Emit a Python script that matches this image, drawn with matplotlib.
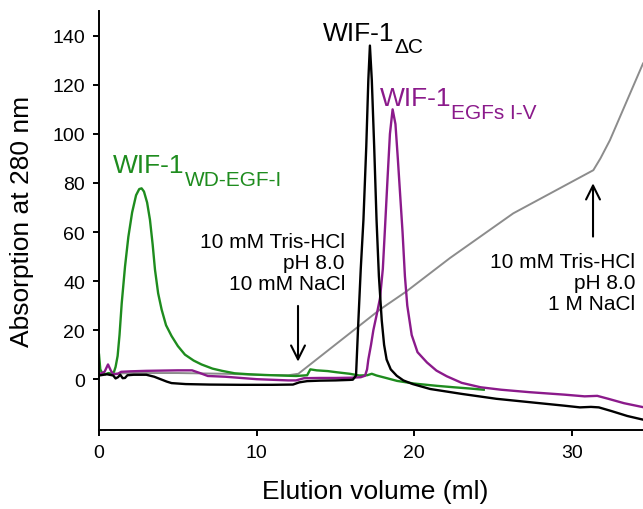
import numpy as np
import matplotlib.pyplot as plt

plt.rcParams['font.family'] = ['Liberation Sans', 'DejaVu Sans']

# WIF-1 WD-EGF-I (зелёная)
green_x = [0, 0.08, 0.2, 0.4, 0.6, 0.8, 0.95, 1.05, 1.18, 1.3, 1.44, 1.65, 1.86, 2.1,
           2.35, 2.55, 2.7, 2.85, 3.05, 3.23, 3.4, 3.55, 3.75, 3.97, 4.25, 4.6, 5.0,
           5.45, 6.0, 6.5, 7.2, 7.8, 8.6, 9.5, 10.5, 11.5, 12.5, 13.2, 13.4, 13.8,
           14.5, 15.1, 15.9, 16.5, 17.0, 17.3, 17.6, 18.2, 18.9, 20.0, 21.4, 22.5,
           23.5, 24.4]
green_y = [10, 4, 2.5, 2, 2.5, 2.2, 3, 5, 9.5, 18, 31, 46, 58, 68,
           75, 77.5, 77.8, 76.5, 72, 65, 55, 44.6, 35, 28.4, 22, 17.6, 13.5,
           10, 7.6, 6, 4.3, 3.4, 2.4, 2, 1.7, 1.5, 1.3, 1.6, 4, 3.6,
           3.3, 2.8, 2.2, 1.5, 1.6, 2.2, 1.5, 0.5, -0.7, -1.8, -2.7, -3.3,
           -3.8, -4.3]

# WIF-1 dC (чёрная)
black_x = [0, 0.5, 0.9, 1.05, 1.2, 1.35, 1.5, 1.65, 1.8, 2.2, 3.0, 3.5, 3.9, 4.3,
           4.6, 5.5, 7, 9, 11, 12.3, 12.7, 13.2, 14, 15, 15.9, 16.1, 16.3, 16.45,
           16.6, 16.77, 16.95, 17.08, 17.18, 17.3, 17.45, 17.6, 17.75, 17.93, 18.08,
           18.24, 18.5, 18.88, 19.3, 19.9, 21, 23, 25.2, 27.5, 29.5, 30.5, 31.2,
           31.7, 32.5, 33.5, 34.5]
black_y = [1.5, 2, 1.5, 0.3, 0.8, 1.8, 0.4, 0.5, 1.6, 1.8, 1.8, 1, 0, -1,
           -1.6, -2, -2.2, -2.3, -2.3, -2.2, -1.3, -0.8, -0.6, -0.5, -0.3, -0.2, 1.5, 24,
           45, 65, 95, 122, 136, 122, 95, 65, 42, 24, 14,
           8, 4, 1.4, -0.5, -2, -4, -6, -8, -9.5, -10.8, -11.5, -11.3,
           -11.5, -13, -15, -16.5]

# WIF-1 EGFs I-V (фиолетовая)
purple_x = [0, 0.35, 0.57, 0.75, 0.9, 1.2, 1.4, 2, 3, 4, 5, 5.9, 6.4, 6.9, 8, 10,
            12, 12.5, 13, 14, 15, 16, 16.6, 16.87, 17.0, 17.08, 17.25, 17.4, 17.6,
            17.82, 18.0, 18.14, 18.3, 18.45, 18.62, 18.8, 18.95, 19.1, 19.25, 19.4,
            19.55, 19.83, 20.2, 20.8, 21.4, 22.05, 23, 24.2, 25.5, 27.3, 29.5, 30.8,
            31.6, 32.3, 33.3, 34.5]
purple_y = [2, 3, 6, 3.5, 2.0, 2.2, 3.0, 3.2, 3.4, 3.5, 3.6, 3.6, 2.5, 1.3, 1.0, 0,
            -0.5, -0.5, 0.4, 0.5, 0.5, 0.6, 0.8, 1.4, 4, 8, 14, 20, 26,
            33, 45, 62, 82, 100, 110, 104, 90, 75, 60, 42,
            30, 18, 11, 6.8, 3.5, 1.2, -1.5, -3.3, -4.3, -5.3, -6.3, -7,
            -6.8, -8, -9.8, -11.4]

# градиент (серая)
gray_x = [0, 2, 5, 8, 10, 12, 12.64, 17.82, 19.5, 22.26, 26.27, 31.35, 31.8, 32.4, 34.5]
gray_y = [2, 2.5, 2.5, 2.2, 1.8, 1.6, 2.2, 28.4, 35.8, 49.4, 67.6, 85.2, 90, 97.4, 128.7]

fig = plt.figure(figsize=(6.43, 5.10), dpi=100)
ax = fig.add_axes([0.154, 0.155, 0.846, 0.821])

ax.plot(gray_x, gray_y, color='#8c8c8c', lw=1.4)
ax.plot(green_x, green_y, color='#1e8c1e', lw=1.7)
ax.plot(purple_x, purple_y, color='#8b1a8b', lw=1.7)
ax.plot(black_x, black_y, color='black', lw=1.7)

ax.set_xlim(0, 34.5)
ax.set_ylim(-20.7, 150)
ax.set_xticks([0, 10, 20, 30])
ax.set_yticks(range(0, 141, 20))
for s in ['top', 'right']:
    ax.spines[s].set_visible(False)
for s in ['left', 'bottom']:
    ax.spines[s].set_linewidth(1.4)
ax.tick_params(labelsize=14, width=1.4, length=4, pad=6)
ax.set_xlabel('Elution volume (ml)', fontsize=19)
ax.set_ylabel('Absorption at 280 nm', fontsize=19)
ax.xaxis.set_label_coords(0.507, -0.117)
ax.yaxis.set_label_coords(-0.12, 0.5)


def label(x, y, main, sub, color):
    t = ax.text(x, y, main, fontsize=19, color=color, ha='left', va='baseline')
    ax.annotate(sub, xy=(1, 0), xycoords=t, xytext=(0, -5.5),
                textcoords='offset points', fontsize=15, color=color,
                ha='left', va='baseline')


label(0.89, 84.4, 'WIF-1', 'WD-EGF-I', '#1e8c1e')
label(14.18, 138.4, 'WIF-1', 'ΔC', 'black')
label(17.82, 111.6, 'WIF-1', 'EGFs I-V', '#8b1a8b')

ax.text(15.6, 47.5, '10 mM Tris-HCl\npH 8.0\n10 mM NaCl', fontsize=15,
        ha='right', va='center', linespacing=1.15)
ax.annotate('', xy=(12.62, 6), xytext=(12.62, 31),
            arrowprops=dict(arrowstyle='->', color='black', lw=1.5,
                            mutation_scale=25))

ax.text(34.0, 39.4, '10 mM Tris-HCl\npH 8.0\n1 M NaCl', fontsize=15,
        ha='right', va='center', linespacing=1.15)
ax.annotate('', xy=(31.33, 81), xytext=(31.33, 57),
            arrowprops=dict(arrowstyle='->', color='black', lw=1.5,
                            mutation_scale=25))

fig.savefig('out.png', dpi=100)
